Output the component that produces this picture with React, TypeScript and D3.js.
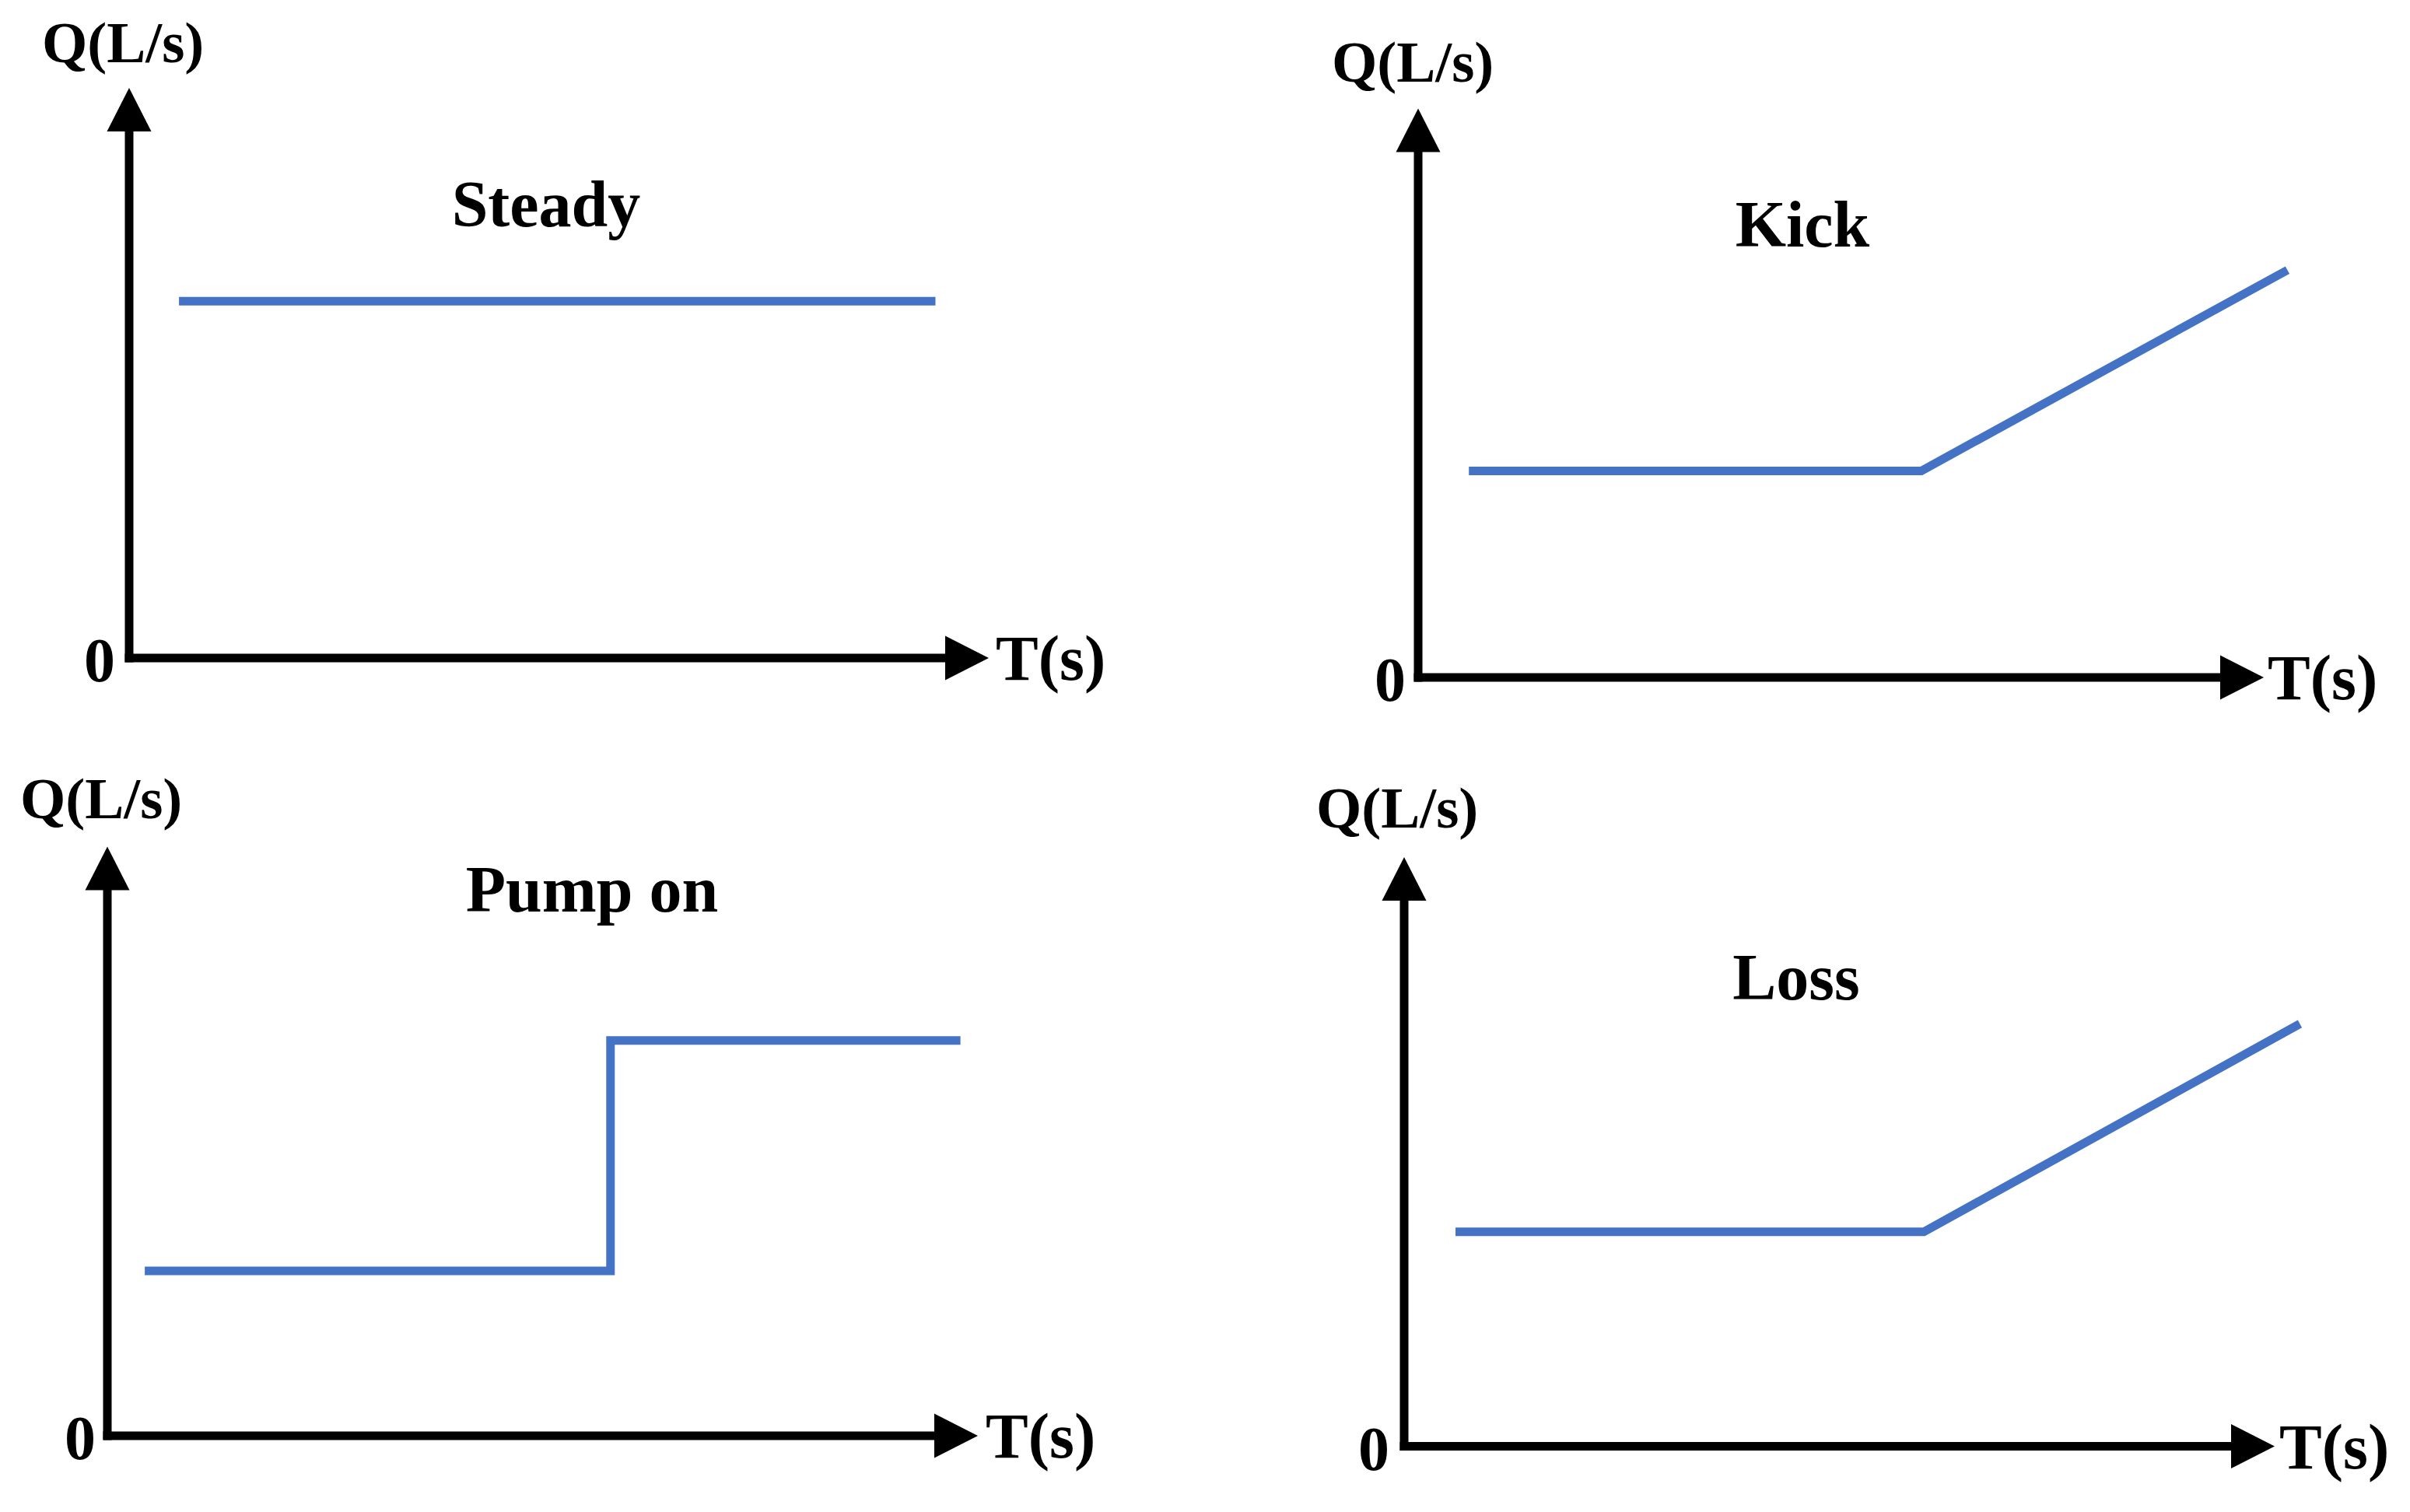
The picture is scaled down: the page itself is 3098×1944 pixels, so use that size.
import React from "react";
import * as d3 from "d3";

// ---- data (domain units: 0..100 along each axis) ----
const panelTitles = ["Steady", "Kick", "Pump on", "Loss"];
const yAxisLabel = "Q(L/s)";
const xAxisLabel = "T(s)";
const originLabel = "0";

const steadyT = [5.8, 93.8];
const steadyQ = [62.6, 62.6];

const kickT = [6.0, 59.5, 102.8];
const kickQ = [36.3, 36.3, 71.6];

const pumpT = [4.3, 57.8, 57.8, 98.0];
const pumpQ = [28, 28, 67.1, 67.1];

const lossT = [5.9, 59.7, 102.9];
const lossQ = [36.4, 36.4, 71.7];

const seriesT = [steadyT, kickT, pumpT, lossT];
const seriesQ = [steadyQ, kickQ, pumpQ, lossQ];

// ---- layout (pixels) ----
type Layout = {
  ox: number; oy: number; xTip: number; yTip: number;
  qx: number; qy: number; zx: number; zy: number; tx: number; ty: number;
  titleX: number; titleY: number;
};
const layouts: Layout[] = [
  { ox: 166, oy: 846, xTip: 1271, yTip: 113, qx: 54, qy: 80, zx: 108, zy: 876, tx: 1280, ty: 874, titleX: 702, titleY: 291 },
  { ox: 1823, oy: 871, xTip: 2910, yTip: 139.5, qx: 1712, qy: 105, zx: 1767, zy: 901, tx: 2915, ty: 899, titleX: 2317, titleY: 317 },
  { ox: 138, oy: 1846, xTip: 1257, yTip: 1088.5, qx: 26, qy: 1052, zx: 83, zy: 1876, tx: 1267, ty: 1874, titleX: 761, titleY: 1172 },
  { ox: 1805, oy: 1859.5, xTip: 2924, yTip: 1102, qx: 1692, qy: 1064, zx: 1746, zy: 1890, tx: 2930, ty: 1888, titleX: 2309, titleY: 1285 },
];

const BLUE = "#4472C4";
const FONT = "'Liberation Serif', 'Times New Roman', serif";
const AXIS_W = 11;
const HEAD_LEN = 56;
const HEAD_HALF = 28.5;

function Panel({ i }: { i: number }) {
  const L = layouts[i];
  const x = d3.scaleLinear().domain([0, 100]).range([L.ox, L.xTip]);
  const y = d3.scaleLinear().domain([0, 100]).range([L.oy, L.yTip]);
  const pts: [number, number][] = seriesT[i].map((t, k) => [t, seriesQ[i][k]]);
  const line = d3.line<[number, number]>().x((d) => x(d[0])).y((d) => y(d[1]));

  const x0 = x(0), y0 = y(0), xt = x(100), yt = y(100);
  const yHead = `M${x0},${yt} L${x0 - HEAD_HALF},${yt + HEAD_LEN} L${x0 + HEAD_HALF},${yt + HEAD_LEN} Z`;
  const xHead = `M${xt},${y0} L${xt - HEAD_LEN},${y0 - HEAD_HALF} L${xt - HEAD_LEN},${y0 + HEAD_HALF} Z`;

  return (
    <g>
      <path d={line(pts) || ""} fill="none" stroke={BLUE} strokeWidth={11} strokeLinejoin="miter" strokeLinecap="butt" />
      <line x1={x0} y1={y0 + AXIS_W / 2} x2={x0} y2={yt + HEAD_LEN - 2} stroke="#000" strokeWidth={AXIS_W} />
      <line x1={x0 - AXIS_W / 2} y1={y0} x2={xt - HEAD_LEN + 2} y2={y0} stroke="#000" strokeWidth={AXIS_W} />
      <path d={yHead} fill="#000" />
      <path d={xHead} fill="#000" />
      <text x={L.qx} y={L.qy} fontFamily={FONT} fontWeight="bold" fontSize={75}>{yAxisLabel}</text>
      <text x={L.zx} y={L.zy} fontFamily={FONT} fontWeight="bold" fontSize={80}>{originLabel}</text>
      <text x={L.tx} y={L.ty} fontFamily={FONT} fontWeight="bold" fontSize={82}>{xAxisLabel}</text>
      <text x={L.titleX} y={L.titleY} textAnchor="middle" fontFamily={FONT} fontWeight="bold" fontSize={84}>{panelTitles[i]}</text>
    </g>
  );
}

export default function App() {
  return (
    <svg width={3098} height={1944} viewBox="0 0 3098 1944"
      style={{ position: "absolute", left: 0, top: 0, display: "block", background: "#fff" }}>
      <rect x={0} y={0} width={3098} height={1944} fill="#fff" />
      {panelTitles.map((_, i) => <Panel key={i} i={i} />)}
    </svg>
  );
}
